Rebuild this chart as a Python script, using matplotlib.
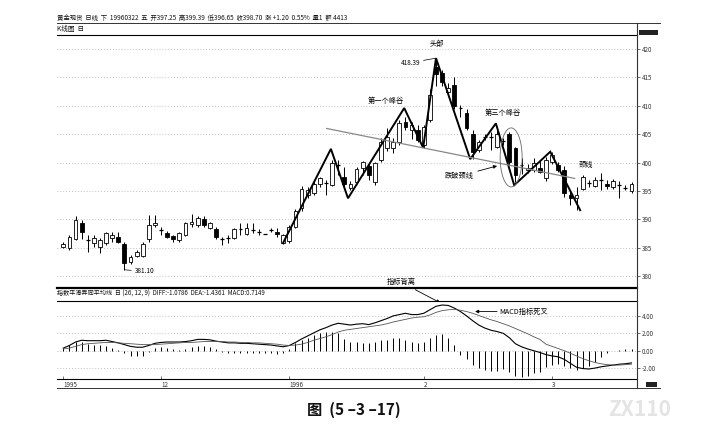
import matplotlib
matplotlib.use('Agg')
import matplotlib.pyplot as plt
from matplotlib.patches import Rectangle, Ellipse
from matplotlib.lines import Line2D

plt.rcParams['font.family'] = ['Noto Sans CJK SC', 'DejaVu Sans']

# ---------------- data ----------------
opens = [385.2, 384.9, 386.5, 389.4, 386.3, 385.9, 385.2, 385.8, 386.65, 386.9,
         385.65, 382.4, 383.5, 383.5, 386.5, 389.0, 388.1, 387.5, 387.0, 386.3,
         387.2, 389.2, 389.0, 390.0, 388.4, 388.2, 386.5, 386.6, 386.65, 388.2,
         387.4, 388.1, 387.8, 387.4, 388.1, 387.8, 385.8, 386.1, 388.7, 391.9,
         394.3, 394.6, 396.3, 396.4, 396.0, 399.5, 397.5, 395.5, 396.5, 399.0,
         399.3, 396.5, 400.4, 402.5, 402.5, 403.7, 407.2, 405.8, 405.7, 403.1,
         407.5, 416.9, 415.7, 412.5, 413.7, 409.6, 408.7, 405.1, 402.2, 404.5,
         404.6, 402.8, 403.9, 405.1, 402.6, 399.6, 398.6, 398.7, 399.0, 397.2,
         400.1, 399.5, 398.7, 394.3, 393.7, 395.4, 396.3, 395.9, 396.9, 396.3,
         395.7, 396.0, 395.6, 394.9]
highs = [386.0, 387.2, 390.5, 389.9, 387.2, 387.2, 386.65, 387.8, 387.8, 387.8,
         386.06, 383.7, 384.6, 386.06, 390.75, 390.75, 388.7, 387.9, 387.3, 387.7,
         389.6, 391.0, 390.5, 390.5, 389.5, 388.7, 386.9, 387.2, 388.4, 389.3,
         389.3, 389.3, 388.2, 387.45, 388.4, 388.4, 387.4, 389.0, 391.8, 395.8,
         395.6, 396.8, 397.5, 396.9, 400.5, 400.4, 399.2, 396.8, 399.2, 400.2,
         399.9, 400.1, 404.3, 406.0, 404.3, 407.5, 408.0, 407.2, 406.6, 406.6,
         413.0, 418.39, 416.3, 414.0, 415.1, 410.1, 409.5, 405.7, 404.0, 405.1,
         405.4, 406.3, 404.3, 405.4, 402.8, 400.8, 399.8, 400.8, 400.4, 401.0,
         401.9, 400.1, 399.3, 395.2, 395.7, 397.8, 396.9, 397.4, 398.1, 396.9,
         397.1, 396.8, 396.0, 396.5]
lows = [384.9, 384.6, 386.3, 386.6, 384.3, 385.2, 384.0, 385.5, 386.0, 385.8,
        381.1, 382.2, 383.3, 383.4, 386.0, 388.7, 387.2, 386.7, 386.0, 386.0,
        387.0, 388.7, 388.7, 388.7, 388.2, 386.6, 385.5, 385.8, 386.5, 387.2,
        387.2, 387.5, 387.2, 387.35, 387.8, 386.9, 385.6, 385.9, 388.5, 391.5,
        393.8, 394.2, 395.7, 394.3, 395.8, 397.8, 395.7, 395.2, 396.2, 397.8,
        396.9, 396.0, 400.1, 402.0, 401.6, 403.0, 405.8, 404.2, 403.7, 402.6,
        407.2, 413.5, 413.4, 411.8, 409.5, 408.0, 405.7, 400.6, 401.9, 403.9,
        402.2, 402.5, 403.0, 399.5, 396.5, 398.0, 398.1, 398.4, 398.1, 396.8,
        399.8, 398.4, 394.0, 392.5, 391.6, 395.2, 395.7, 395.7, 395.2, 395.4,
        395.4, 393.7, 395.2, 394.6]
closes = [385.65, 386.8, 389.9, 387.8, 386.35, 386.65, 386.3, 387.6, 387.2, 386.0,
          382.25, 383.4, 384.3, 385.65, 389.0, 389.4, 388.15, 386.9, 386.45, 387.5,
          389.3, 389.6, 390.2, 389.0, 389.3, 386.9, 386.45, 386.7, 388.2, 388.25,
          388.4, 388.1, 387.75, 387.4, 388.1, 387.4, 387.2, 388.7, 391.5, 395.4,
          395.2, 396.3, 397.2, 396.3, 399.85, 399.6, 396.2, 396.3, 398.9, 400.1,
          397.8, 399.85, 403.7, 404.5, 403.7, 406.9, 406.3, 406.6, 404.0, 406.3,
          411.9, 415.6, 414.2, 413.2, 409.9, 409.5, 406.0, 401.9, 403.7, 404.6,
          404.5, 405.1, 403.8, 400.1, 397.8, 399.5, 399.1, 399.9, 398.4, 400.4,
          401.3, 398.7, 394.6, 393.7, 394.3, 397.5, 396.4, 397.0, 396.9, 395.8,
          396.8, 396.0, 395.5, 396.2]

diff = [0.3, 0.6, 1.0, 1.2, 1.15, 1.15, 1.15, 1.2, 1.05, 0.9,
        0.7, 0.5, 0.4, 0.4, 0.6, 0.85, 0.95, 1.0, 1.0, 1.0,
        1.05, 1.15, 1.3, 1.3, 1.25, 1.1, 1.0, 0.9, 0.9, 0.85,
        0.85, 0.8, 0.75, 0.7, 0.65, 0.55, 0.45, 0.6, 0.95, 1.35,
        1.7, 2.05, 2.4, 2.65, 2.95, 3.15, 3.05, 2.95, 3.05, 3.1,
        3.0, 3.2, 3.45, 3.7, 4.0, 4.15, 4.3, 4.15, 4.15, 4.3,
        4.7, 5.1, 5.25, 5.2, 4.9, 4.5, 4.0, 3.45, 2.95, 2.6,
        2.35, 2.2, 2.0, 1.5, 0.8, 0.45, 0.2, 0.0, -0.2, -0.45,
        -0.6, -0.7, -1.0, -1.45, -1.9, -2.05, -2.1, -2.0, -1.85, -1.75,
        -1.65, -1.55, -1.5, -1.4]
dea = [0.2, 0.3, 0.5, 0.7, 0.8, 0.85, 0.9, 0.95, 0.95, 0.9,
       0.85, 0.8, 0.75, 0.7, 0.7, 0.7, 0.75, 0.8, 0.85, 0.9,
       0.95, 0.95, 1.0, 1.05, 1.05, 1.05, 1.05, 1.0, 1.0, 0.95,
       0.95, 0.9, 0.9, 0.85, 0.8, 0.75, 0.65, 0.6, 0.65, 0.75,
       0.95, 1.2, 1.4, 1.6, 1.85, 2.15, 2.35, 2.45, 2.55, 2.65,
       2.75, 2.85, 2.95, 3.1, 3.3, 3.45, 3.6, 3.75, 3.85, 3.9,
       4.1, 4.4, 4.6, 4.7, 4.75, 4.65, 4.5, 4.3, 4.05, 3.8,
       3.55, 3.35, 3.1, 2.85, 2.55, 2.25, 1.95, 1.6, 1.3, 0.75,
       0.5, 0.25, 0.0, -0.3, -0.6, -0.9, -1.15, -1.35, -1.5, -1.6,
       -1.65, -1.65, -1.6, -1.55]
macd_hist = [0.3, 0.6, 1.0, 1.0, 0.8, 0.7, 0.6, 0.5, 0.3, 0.1,
             -0.3, -0.6, -0.6, -0.6, -0.2, 0.3, 0.4, 0.3, 0.2, 0.1,
             0.2, 0.4, 0.5, 0.5, 0.4, 0.2, -0.1, -0.3, -0.3, -0.3,
             -0.3, -0.3, -0.3, -0.3, -0.3, -0.35, -0.3, 0.15, 0.85, 1.23,
             1.42, 1.81, 2.0, 2.19, 2.19, 2.0, 1.3, 1.04, 1.04, 0.85,
             0.85, 1.04, 1.23, 1.23, 1.42, 1.42, 1.23, 1.04, 0.85, 1.04,
             1.42, 1.81, 1.9, 1.42, 0.66, -0.45, -1.0, -1.6, -1.95, -2.2,
             -2.29, -2.29, -2.1, -2.5, -2.85, -2.99, -2.9, -2.6, -2.4, -1.9,
             -1.64, -1.53, -1.75, -2.02, -2.21, -2.02, -1.7, -1.25, -0.68, -0.23,
             -0.05, 0.1, 0.15, 0.2]

# zig-zag pattern line (index, price)
zig_idx = [35.96, 43.8, 46.6, 55.8, 58.9, 61.0, 66.6, 70.8, 73.8, 79.7, 84.6]
zig_price = [385.8, 402.4, 393.7, 409.6, 402.6, 418.39, 400.6, 406.9, 396.0, 401.9, 391.6]
# neckline
neck_idx = [43.1, 83.7]
neck_price = [406.0, 397.2]

price_ticks = [380, 385, 390, 395, 400, 405, 410, 415, 420]
macd_ticks = [-2, 0, 2, 4]
date_pos = [0, 16, 37, 59, 80]
date_labels = ['1995', '12', '1996', '2', '3']

header = '黄金现货  日线  下  19960322  五  开397.25  高399.39  低396.65  收398.70  涨 +1.20  0.55%  量1  额 4413'
macd_title = '指数平滑异同平均线  日 (26, 12, 9)  DIFF:-1.0786  DEA:-1.4361  MACD:0.7149'

# ---------------- figure ----------------
W, H = 703, 430
fig = plt.figure(figsize=(W / 100, H / 100), dpi=100)
fig.patch.set_facecolor('white')

def fx(px):
    return px / W

def fy(py):
    return 1 - py / H

ax = fig.add_axes([fx(57), fy(288), fx(580), 253 / H])
axm = fig.add_axes([fx(57), fy(379), fx(580), 78 / H])

n = len(opens)
for a in (ax, axm):
    a.set_xlim(-1.03, 93.9)
    a.set_facecolor('white')
    for s in ('left',):
        a.spines[s].set_visible(False)
    a.spines['right'].set_visible(False)
    a.tick_params(axis='y', which='both', right=True, left=False, labelright=True,
                  labelleft=False, length=2, width=0.5, pad=1.5, labelsize=4.5,
                  colors='#333333')

ax.set_ylim(377.89, 422.47)
axm.set_ylim(-3.25, 5.71)

# grid
ax.set_yticks(price_ticks)
ax.set_yticklabels([str(t) for t in price_ticks])
axm.set_yticks(macd_ticks)
axm.set_yticklabels(['%.2f' % t for t in macd_ticks])
for a in (ax, axm):
    a.yaxis.grid(True, linestyle=(0, (1, 2.5)), color='#aaaaaa', lw=0.6)
    a.set_axisbelow(True)

ax.set_xticks([])
ax.spines['top'].set_linewidth(0.8)
ax.spines['bottom'].set_linewidth(1.6)
axm.spines['top'].set_linewidth(0.8)
axm.spines['bottom'].set_linewidth(0.8)

# candles
bw = 0.62
for i in range(n):
    o, h, l, c = opens[i], highs[i], lows[i], closes[i]
    ax.vlines(i, l, h, color='black', lw=0.7, zorder=2)
    lo, hi = min(o, c), max(o, c)
    if hi - lo < 0.12:
        ax.hlines((o + c) / 2, i - bw / 2, i + bw / 2, color='black', lw=0.9, zorder=3)
    else:
        fc = 'white' if c >= o else 'black'
        ax.add_patch(Rectangle((i - bw / 2, lo), bw, hi - lo, facecolor=fc,
                               edgecolor='black', lw=0.6, zorder=3))

# pattern lines
ax.plot(zig_idx, zig_price, color='black', lw=1.4, zorder=4, solid_joinstyle='miter')
ax.plot(neck_idx, neck_price, color='#888888', lw=0.9, zorder=4)
ax.add_patch(Ellipse((73.3, 400.9), 3.6, 10.4, fill=False, edgecolor='#666666',
                     lw=0.6, zorder=5))

fs = 5.2
ax.text(61.2, 420.9, '头部', fontsize=fs, ha='center', va='center')
ax.annotate('418.39', xy=(61.0, 418.39), xytext=(56.9, 417.6), fontsize=4.6,
            ha='center', va='center',
            arrowprops=dict(arrowstyle='-', lw=0.5, color='black', shrinkA=0, shrinkB=0))
ax.text(52.8, 410.84, '第一个峰谷', fontsize=fs, ha='center', va='center')
ax.text(72.0, 408.7, '第三个峰谷', fontsize=fs, ha='center', va='center')
ax.annotate('跌破颈线', xy=(71.0, 399.4), xytext=(64.8, 397.6), fontsize=fs,
            ha='center', va='center',
            arrowprops=dict(arrowstyle='-|>', lw=0.6, color='black',
                            mutation_scale=5, shrinkA=1, shrinkB=0))
ax.text(85.5, 399.56, '颈线', fontsize=fs, ha='center', va='center')
ax.annotate('381.10', xy=(10.0, 381.1), xytext=(13.4, 380.8), fontsize=4.6,
            ha='center', va='center',
            arrowprops=dict(arrowstyle='-', lw=0.5, color='black', shrinkA=1, shrinkB=0))

# MACD panel
idx = list(range(n))
axm.vlines(idx, 0, macd_hist, color='black', lw=0.7, zorder=2)
axm.plot(idx, diff, color='black', lw=0.8, zorder=3)
axm.plot(idx, dea, color='#555555', lw=0.6, zorder=3)

axm.set_xticks(date_pos)
axm.set_xticklabels(date_labels)
axm.tick_params(axis='x', direction='in', length=2, width=0.5, pad=1.5, labelsize=4.5,
                colors='#333333')
for lab in axm.get_xticklabels():
    lab.set_ha('left')

ax.annotate('指标背离', xy=(61.7, 5.5), xycoords=axm.transData,
            xytext=(55.3, 378.9), textcoords=ax.transData, fontsize=fs,
            ha='center', va='center', annotation_clip=False,
            arrowprops=dict(arrowstyle='-|>', lw=0.6, color='black',
                            mutation_scale=5, shrinkA=1, shrinkB=0))
axm.annotate('', xy=(67.4, 4.5), xytext=(71.0, 4.5),
             arrowprops=dict(arrowstyle='-|>', lw=0.6, color='black',
                             mutation_scale=5, shrinkA=0, shrinkB=0))
axm.text(71.3, 4.5, 'MACD指标死叉', fontsize=fs, ha='left', va='center')

# frame/extra lines in figure coordinates
def hline(y, x0, x1, lw=0.7, color='#333333'):
    fig.add_artist(Line2D([fx(x0), fx(x1)], [fy(y), fy(y)], transform=fig.transFigure,
                          lw=lw, color=color))

def vline(x, y0, y1, lw=0.7, color='#333333'):
    fig.add_artist(Line2D([fx(x), fx(x)], [fy(y0), fy(y1)], transform=fig.transFigure,
                          lw=lw, color=color))

hline(23, 57, 660, lw=0.7)
hline(388, 57, 660, lw=0.7)
vline(637, 23, 388, lw=0.8)
fig.add_artist(Rectangle((fx(639), fy(35)), fx(19), 5 / H, transform=fig.transFigure,
                         facecolor='#222222', edgecolor='none'))
fig.add_artist(Rectangle((fx(646), fy(387)), fx(11), 5 / H, transform=fig.transFigure,
                         facecolor='#222222', edgecolor='none'))

fig.text(fx(57), fy(18), header, fontsize=4.6, ha='left', va='center', color='#111111')
fig.text(fx(57), fy(29), 'K线图  日', fontsize=4.8, ha='left', va='center', color='#111111')
fig.text(fx(57), fy(294), macd_title, fontsize=4.4, ha='left', va='center', color='#111111')

fig.text(fx(354), fy(410), '图  (5 –3 –17)', fontsize=11, fontweight='bold',
         ha='center', va='center', color='#111111')
fig.text(fx(640), fy(410), 'ZX110', fontsize=15, fontweight='bold', ha='center',
         va='center', color='#e4e4e4', style='italic')

fig.savefig('out.png', dpi=100, facecolor='white')
